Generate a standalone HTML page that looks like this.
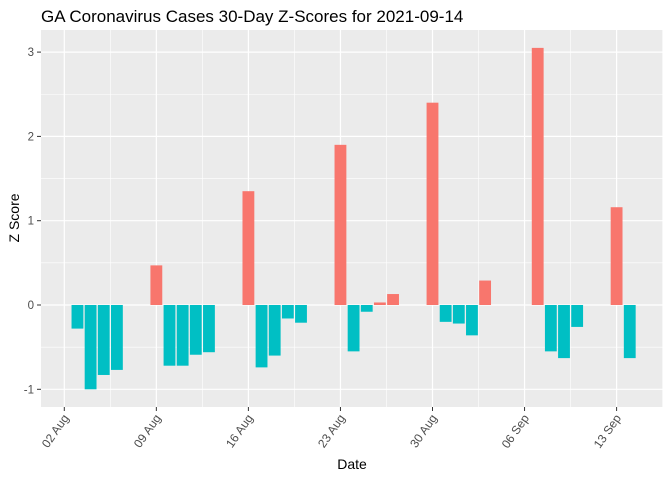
<!DOCTYPE html>
<html><head><meta charset="utf-8"><style>
body{margin:0;background:#fff;font-family:"Liberation Sans",Arial,sans-serif}
</style></head><body>
<svg id="chart" width="672" height="480" xmlns="http://www.w3.org/2000/svg" font-family="Liberation Sans, Arial, sans-serif">
<text x="41" y="22" font-size="17" fill="#000">GA Coronavirus Cases 30-Day Z-Scores for 2021-09-14</text>
<rect x="41" y="30" width="622" height="377" fill="#ebebeb"/>
<g id="grid"></g><g id="bars"></g><g id="axes"></g>
<text x="352" y="469" font-size="14" text-anchor="middle" fill="#000">Date</text>
<text transform="translate(19,218) rotate(-90)" font-size="14" text-anchor="middle" fill="#000">Z Score</text>
</svg>
<script>
// day offsets from 02 Aug 2021
const days = [1,2,3,4,7,8,9,10,11,14,15,16,17,18,21,22,23,24,25,28,29,30,31,32,36,37,38,39,42,43];
const zscores = [-0.28,-1.0,-0.83,-0.77,0.47,-0.72,-0.72,-0.59,-0.56,1.35,-0.74,-0.6,-0.16,-0.21,1.9,-0.55,-0.08,0.03,0.13,2.4,-0.2,-0.22,-0.36,0.29,3.05,-0.55,-0.63,-0.26,1.16,-0.63];
const xTickDays = [0,7,14,21,28,35,42];
const xTickLabels = ["02 Aug","09 Aug","16 Aug","23 Aug","30 Aug","06 Sep","13 Sep"];
const yTicks = [-1,0,1,2,3];

const NS="http://www.w3.org/2000/svg";
const L=41,R=663,T=30,B=407;
const x=d=>64.3+d*13.15;
const y=v=>305-v*84.3;
function mk(tag,attrs,parent){const e=document.createElementNS(NS,tag);for(const k in attrs)e.setAttribute(k,attrs[k]);document.getElementById(parent).appendChild(e);return e;}
for(let i=0;i<xTickDays.length+1;i++){const d=xTickDays[0]-3.5+7*i;const px=x(d);if(px>L&&px<R){const g=mk('line',{x1:px,x2:px,y1:T,y2:B,stroke:'#fff','stroke-width':0.6},'grid');}}
for(let v=-1.5;v<=3.5;v+=1){const py=y(v);if(py>T&&py<B){const g=mk('line',{x1:L,x2:R,y1:py,y2:py,stroke:'#fff','stroke-width':0.6},'grid');}}
xTickDays.forEach((d,i)=>{const px=x(d);
 const g=mk('line',{x1:px,x2:px,y1:T,y2:B,stroke:'#fff','stroke-width':1.2},'grid');
 const t=mk('line',{x1:px,x2:px,y1:B,y2:B+4,stroke:'#333','stroke-width':1},'axes');
 const lb=mk('text',{transform:`translate(${px+5},${B+11}) rotate(-55)`,'text-anchor':'end','font-size':12,fill:'#4d4d4d'},'axes');lb.textContent=xTickLabels[i];
 });
yTicks.forEach(v=>{const py=y(v);
 const g=mk('line',{x1:L,x2:R,y1:py,y2:py,stroke:'#fff','stroke-width':1.2},'grid');
 const t=mk('line',{x1:L-4,x2:L,y1:py,y2:py,stroke:'#333','stroke-width':1},'axes');
 const lb=mk('text',{x:L-7,y:py+4,'text-anchor':'end','font-size':11.5,fill:'#4d4d4d'},'axes');lb.textContent=v;
 });
const bw=13.15*0.9;
days.forEach((d,i)=>{const v=zscores[i];const y0=y(0),y1=y(v);
 const r=mk('rect',{x:x(d)-bw/2,y:Math.min(y0,y1),width:bw,height:Math.abs(y1-y0),fill:v>0?'#f8766d':'#00bfc4'},'bars');
 
 });
</script>
</body></html>
